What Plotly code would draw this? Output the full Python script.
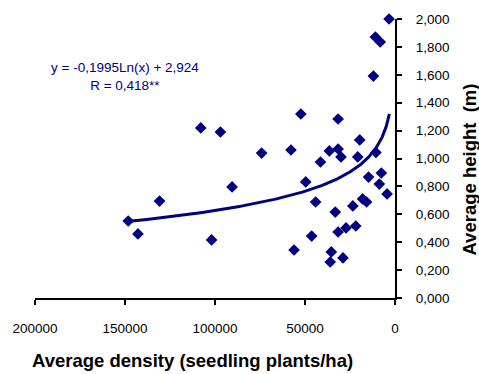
import numpy as np
import plotly.graph_objects as go

# Average density (seedling plants/ha) and average height (m)
density = [148200, 142800, 130800, 107900, 101900, 97000, 90500, 74100, 57800, 56100,
           52300, 49600, 46300, 44100, 41400, 36500, 35400, 36000, 33200, 31600,
           31600, 31600, 30000, 28900, 27200, 23400, 21800, 20700, 19600, 18000,
           15800, 14700, 12000, 10900, 8200, 10600, 8700, 7600, 4400, 3300]
height = [0.552, 0.459, 0.695, 1.219, 0.416, 1.190, 0.796, 1.039, 1.061, 0.344,
          1.319, 0.832, 0.444, 0.688, 0.975, 1.054, 0.330, 0.258, 0.616, 1.283,
          1.068, 0.473, 1.011, 0.287, 0.502, 0.660, 0.516, 1.011, 1.133, 0.710,
          0.688, 0.867, 1.591, 1.871, 1.835, 1.043, 0.817, 0.896, 0.746, 2.000]

# Logarithmic trendline shown on the chart: y = -0,1995 Ln(x) + 2,924
trend_a = -0.1995
trend_b = 2.924
trend_xmin = 3100
trend_xmax = 149000

x_ticks = [200000, 150000, 100000, 50000, 0]
x_ticktext = ["200000", "150000", "100000", "50000", "0"]

NAVY = "#000080"
FONT = "Liberation Sans, Arial, sans-serif"

tx = np.geomspace(trend_xmin, trend_xmax, 200)
ty = trend_a * np.log(tx) + trend_b

fig = go.Figure()
fig.add_trace(go.Scatter(x=tx, y=ty, mode="lines",
                         line=dict(color=NAVY, width=3), hoverinfo="skip",
                         showlegend=False, cliponaxis=False))
fig.add_trace(go.Scatter(x=density, y=height, mode="markers",
                         marker=dict(symbol="diamond", size=9, color=NAVY),
                         showlegend=False, cliponaxis=False))

fig.update_layout(
    width=479, height=374,
    margin=dict(l=28, r=84, t=19, b=76),
    paper_bgcolor="white", plot_bgcolor="white",
    separators=",.",
    font=dict(family=FONT, color="black", size=13.5),
    xaxis=dict(range=[200000, 0], tickmode="array", tickvals=x_ticks,
               ticktext=x_ticktext, showgrid=False, zeroline=False,
               showline=True, linecolor="black", linewidth=2,
               ticks="outside", ticklen=5, tickwidth=1.5, tickcolor="black",
               ticklabelstandoff=12,
               tickfont=dict(family=FONT, size=13.5, color="black")),
    yaxis=dict(range=[0, 2.0], side="right", dtick=0.2, tick0=0,
               tickformat=".3f", showgrid=False, zeroline=False,
               showline=True, linecolor="black", linewidth=2,
               ticks="outside", ticklen=5, tickwidth=1.5, tickcolor="black",
               ticklabelstandoff=11,
               tickfont=dict(family=FONT, size=13.5, color="black")),
)

pw = 479 - 28 - 84
ph = 374 - 19 - 76


def px_to_paper(px, py):
    return (px - 28) / pw, (298 - py) / ph


ax, ay = px_to_paper(189, 360)
bx, by = px_to_paper(470, 170)
ex, ey = px_to_paper(120, 76)
fig.add_annotation(text="<b>Average density (seedling plants/ha)</b>", xref="paper",
                   yref="paper", x=ax, y=ay, xanchor="center", yanchor="middle",
                   showarrow=False, font=dict(family=FONT, size=18.5, color="black"))
fig.add_annotation(text="<b>Average height  (m)</b>", xref="paper", yref="paper",
                   x=bx, y=by, xanchor="center", yanchor="middle", textangle=-90,
                   showarrow=False, font=dict(family=FONT, size=18.5, color="black"))
fig.add_annotation(text="y = -0,1995Ln(x) + 2,924<br>R = 0,418**", xref="paper",
                   yref="paper", x=ex, y=ey, xanchor="center", yanchor="middle",
                   showarrow=False, align="center",
                   font=dict(family=FONT, size=13.5, color=NAVY))

fig.write_html("out.html")
